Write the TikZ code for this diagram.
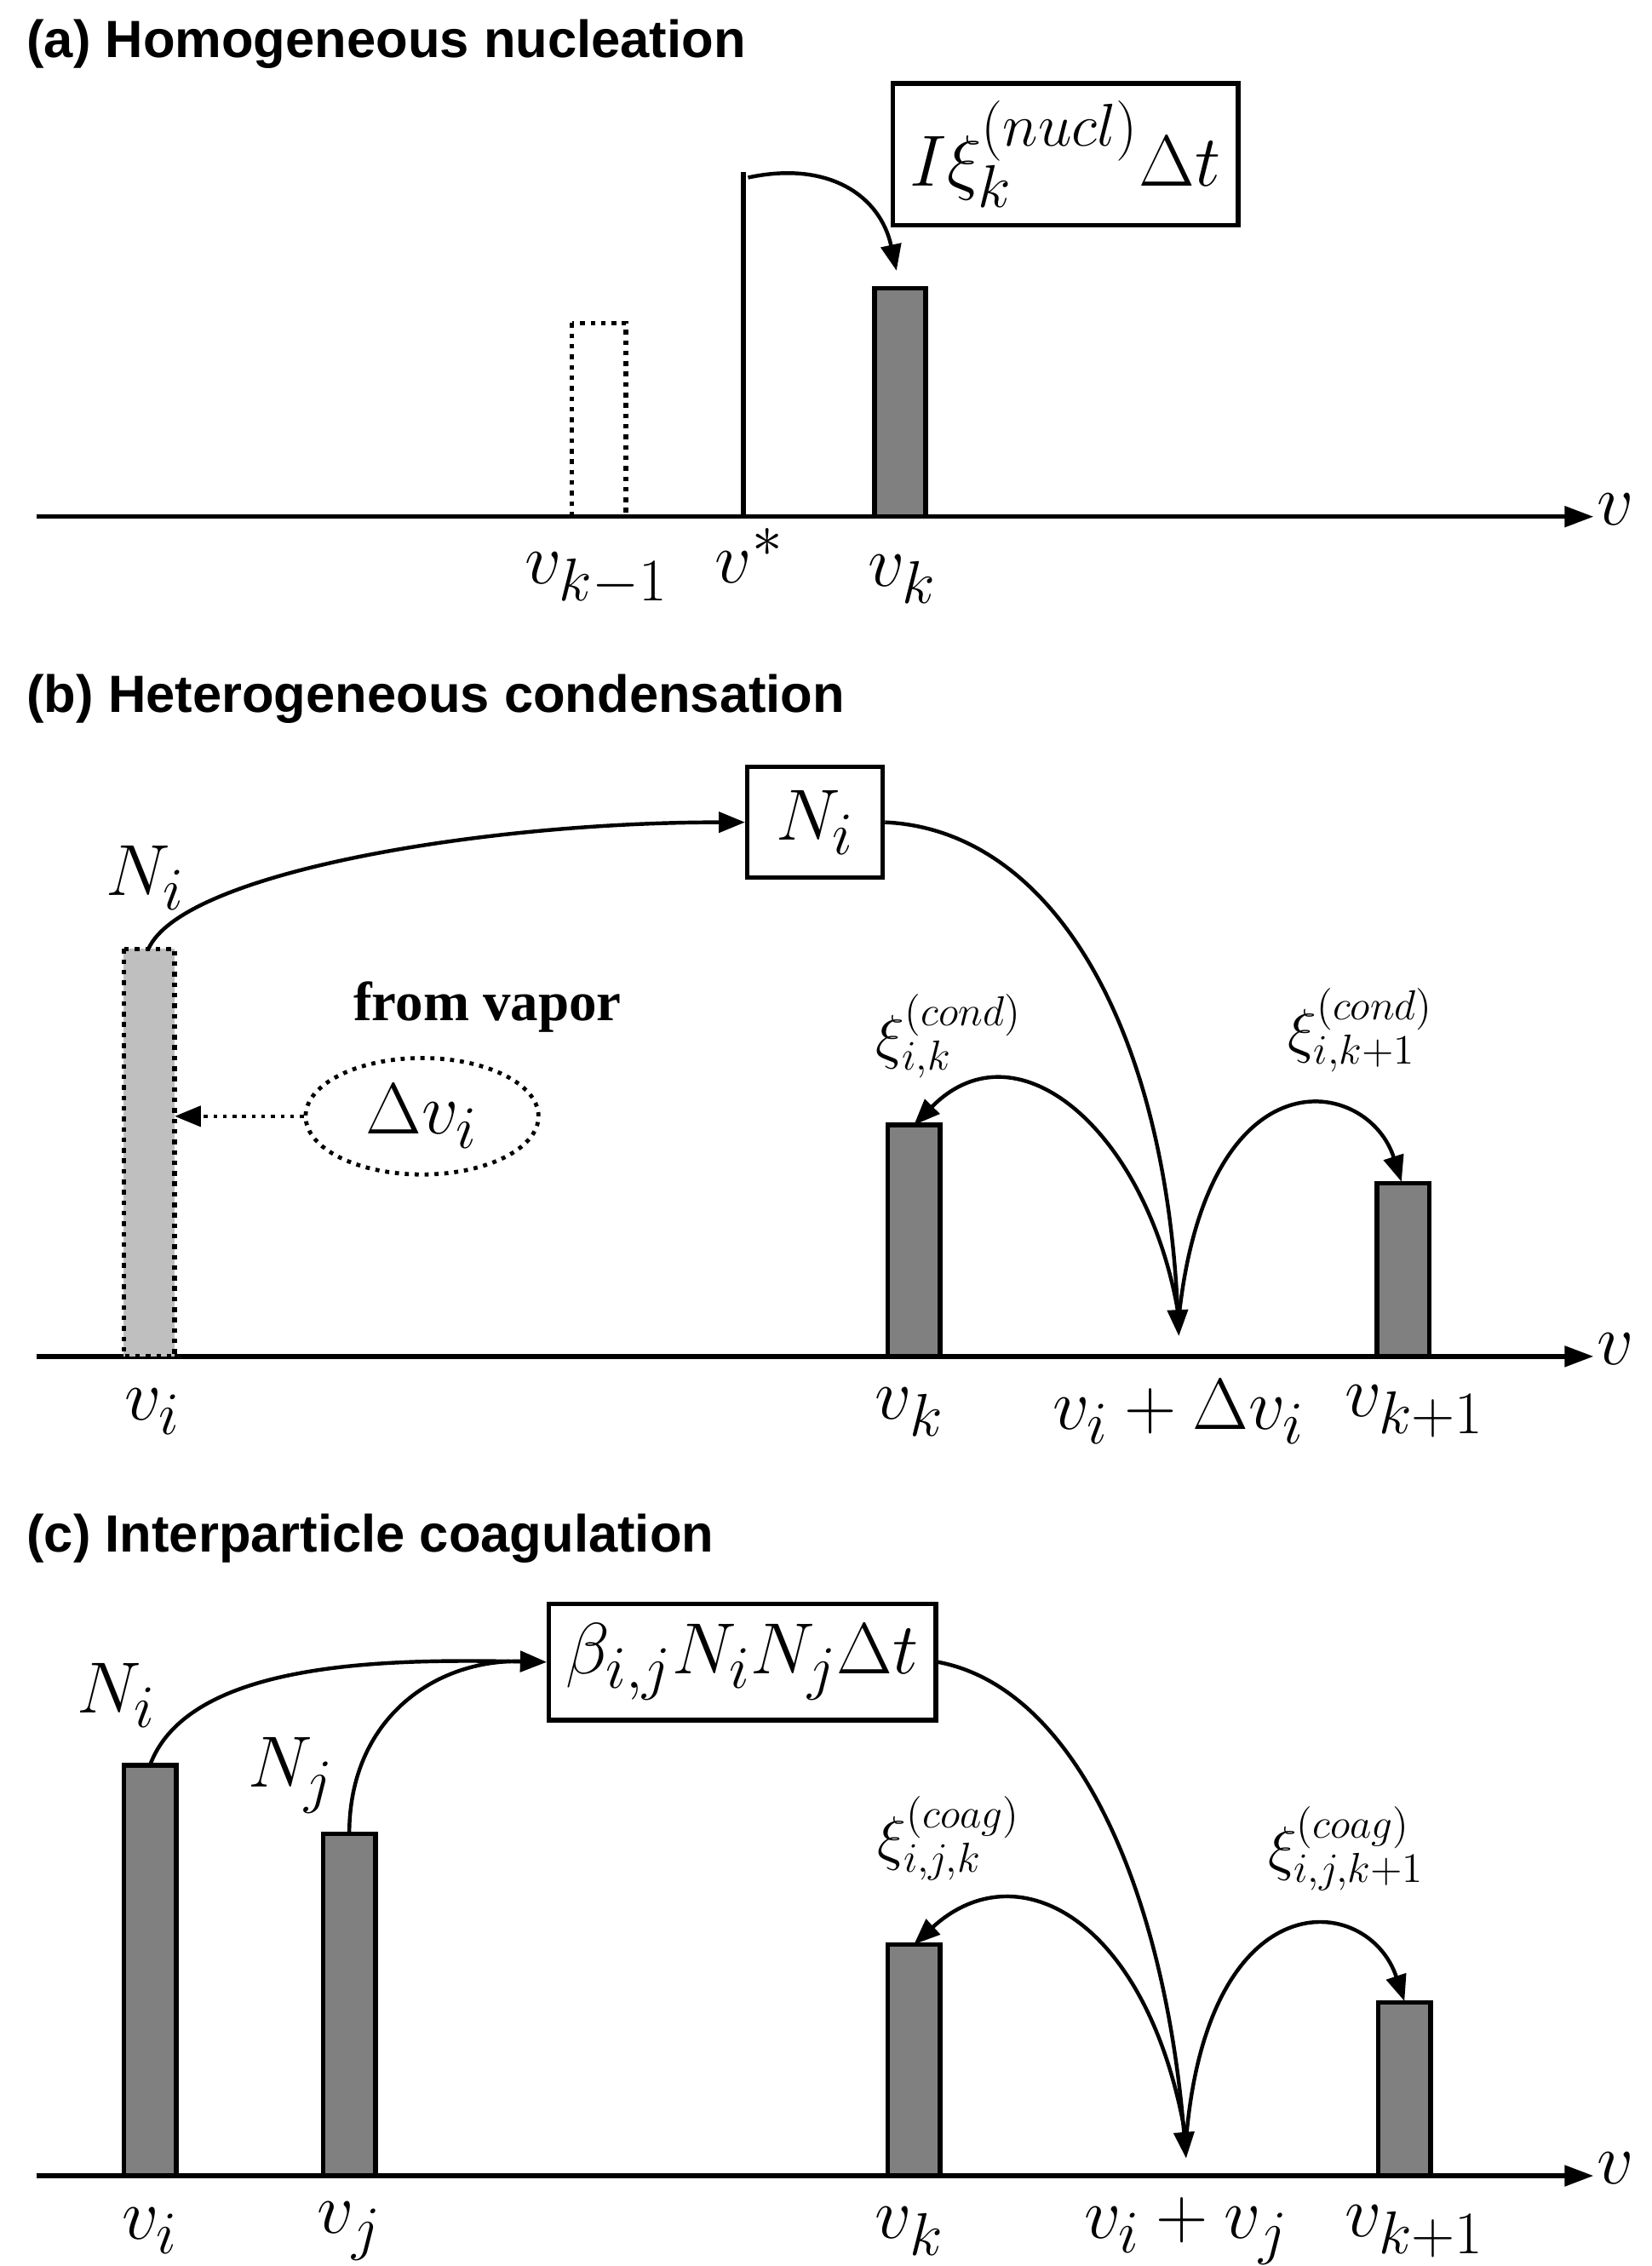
\documentclass[tikz,border=0pt]{standalone}
\usepackage{fontspec}
\setmainfont{Liberation Serif}
\newfontfamily\headf{Liberation Sans}
\usetikzlibrary{arrows.meta,shapes.geometric}
\begin{document}
\begin{tikzpicture}[x=0.5pt,y=-0.5pt,
  every node/.style={inner sep=0pt},
  heading/.style={anchor=west,font=\headf\bfseries\fontsize{18}{20}\selectfont},
  lab/.style={font=\fontsize{28}{30}\selectfont},
  slab/.style={font=\fontsize{22}{24}\selectfont},
  axis/.style={line width=1.6pt,-{Triangle[length=10pt,width=7pt]}},
  bar/.style={draw,line width=1.6pt,fill=black!50},
  lbar/.style={draw,line width=1.6pt,dotted,fill=black!25},
  ebar/.style={draw,line width=1.6pt,dotted},
  fbox/.style={draw,line width=1.6pt,inner sep=6pt},
  arr/.style={line width=1.3pt,-{Triangle[length=9pt,width=7pt]}}]
\useasboundingbox (0,0) rectangle (1135,1557);
% (a)
\node[heading] (ha) at (18,30) {(a) Homogeneous nucleation};
\coordinate (a0) at (25,355); \coordinate (a1) at (1095,355);
\draw[axis] (a0) -- (a1);
\node[lab] (av) at (1110,350) {$v$};
\draw[ebar] (393,222) rectangle (430,355);
\coordinate (vs0) at (511,355); \coordinate (vs1) at (511,118);
\draw[line width=1.8pt] (vs0) -- (vs1);
\draw[bar] (601,198) rectangle (636,355);
\coordinate (bk) at (616,186);
\node[fbox,minimum width=230pt*0.5,minimum height=80pt*0.5,lab] (boxa) at (732,106) {$I\xi_k^{(nucl)}\Delta t$};
\draw[arr] (514,122) .. controls (570,110) and (605,135) .. (bk);
\node[lab] (l1) at (410,398) {$v_{k-1}$};
\node[lab] (l2) at (515,382) {$v^{*}$};
\node[lab] (l3) at (620,398) {$v_k$};
% (b)
\node[heading] (hb) at (18,480) {(b) Heterogeneous condensation};
\draw[axis] (25,932) -- (1095,932);
\node[lab] (bv) at (1110,927) {$v$};
\draw[lbar] (85,652) rectangle (120,932);
\coordinate (bi) at (102,652);
\node[lab] (bNi) at (100,603) {$N_i$};
\node[fbox,minimum width=93pt*0.5,minimum height=76pt*0.5,lab] (boxb) at (560,565) {$N_i$};
\draw[arr] (bi) .. controls (125,600) and (330,565) .. (boxb.west);
\coordinate (bt) at (810,918);
\draw[arr] (boxb.east) .. controls (720,570) and (800,700) .. (bt);
\draw[bar] (610,773) rectangle (646,932);
\draw[bar] (946,813) rectangle (982,932);
\coordinate (bkt) at (628,773); \coordinate (bk1t) at (963,812);
\coordinate (bs) at (810,905);
\draw[arr] (bs) .. controls (790,780) and (700,700) .. (bkt);
\draw[arr] (bs) .. controls (830,720) and (940,740) .. (bk1t);
\node[lab,slab] (xb1) at (652,712) {$\xi_{i,k}^{(cond)}$};
\node[lab,slab] (xb2) at (935,708) {$\xi_{i,k+1}^{(cond)}$};
\node[font=\bfseries\fontsize{19}{21}\selectfont] (fv) at (335,692) {from vapor};
\node[ellipse,draw,dotted,line width=1.4pt,minimum width=80pt,minimum height=40pt,lab] (el) at (290,767) {$\Delta v_i$};
\coordinate (bar1) at (120,767);
\draw[line width=1.3pt,dotted,-{Triangle[length=9pt,width=7pt]}] (el.west) -- (bar1);
\node[lab] (b1) at (105,970) {$v_i$};
\node[lab] (b2) at (625,970) {$v_k$};
\node[lab] (b3) at (810,970) {$v_i+\Delta v_i$};
\node[lab] (b4) at (972,970) {$v_{k+1}$};
% (c)
\node[heading] (hc) at (18,1057) {(c) Interparticle coagulation};
\draw[axis] (25,1495) -- (1095,1495);
\node[lab] (cv) at (1110,1490) {$v$};
\draw[bar] (85,1213) rectangle (121,1495);
\draw[bar] (222,1260) rectangle (258,1495);
\draw[bar] (610,1336) rectangle (646,1495);
\draw[bar] (947,1376) rectangle (983,1495);
\coordinate (ci) at (103,1213); \coordinate (cj) at (240,1260);
\coordinate (ck) at (628,1336); \coordinate (ck1) at (965,1375);
\node[fbox,minimum width=260pt*0.5,minimum height=80pt*0.5,lab] (boxc) at (510,1142) {$\beta_{i,j}N_iN_j\Delta t$};
\node[lab] (cNi) at (80,1165) {$N_i$};
\node[lab] (cNj) at (200,1220) {$N_j$};
\draw[arr] (ci) .. controls (130,1140) and (270,1140) .. (boxc.west);
\draw[arr] (cj) .. controls (240,1180) and (300,1140) .. (boxc.west);
\coordinate (ct) at (815,1483);
\draw[arr] (boxc.east) .. controls (740,1160) and (800,1300) .. (ct);
\coordinate (cs) at (815,1470);
\draw[arr] (cs) .. controls (790,1320) and (700,1270) .. (ck);
\draw[arr] (cs) .. controls (830,1290) and (940,1300) .. (ck1);
\node[lab,slab] (xc1) at (652,1263) {$\xi_{i,j,k}^{(coag)}$};
\node[lab,slab] (xc2) at (925,1270) {$\xi_{i,j,k+1}^{(coag)}$};
\node[lab] (c1) at (103,1533) {$v_i$};
\node[lab] (c2) at (240,1533) {$v_j$};
\node[lab] (c3) at (625,1533) {$v_k$};
\node[lab] (c4) at (815,1533) {$v_i+v_j$};
\node[lab] (c5) at (972,1533) {$v_{k+1}$};
\end{tikzpicture}
\end{document}
